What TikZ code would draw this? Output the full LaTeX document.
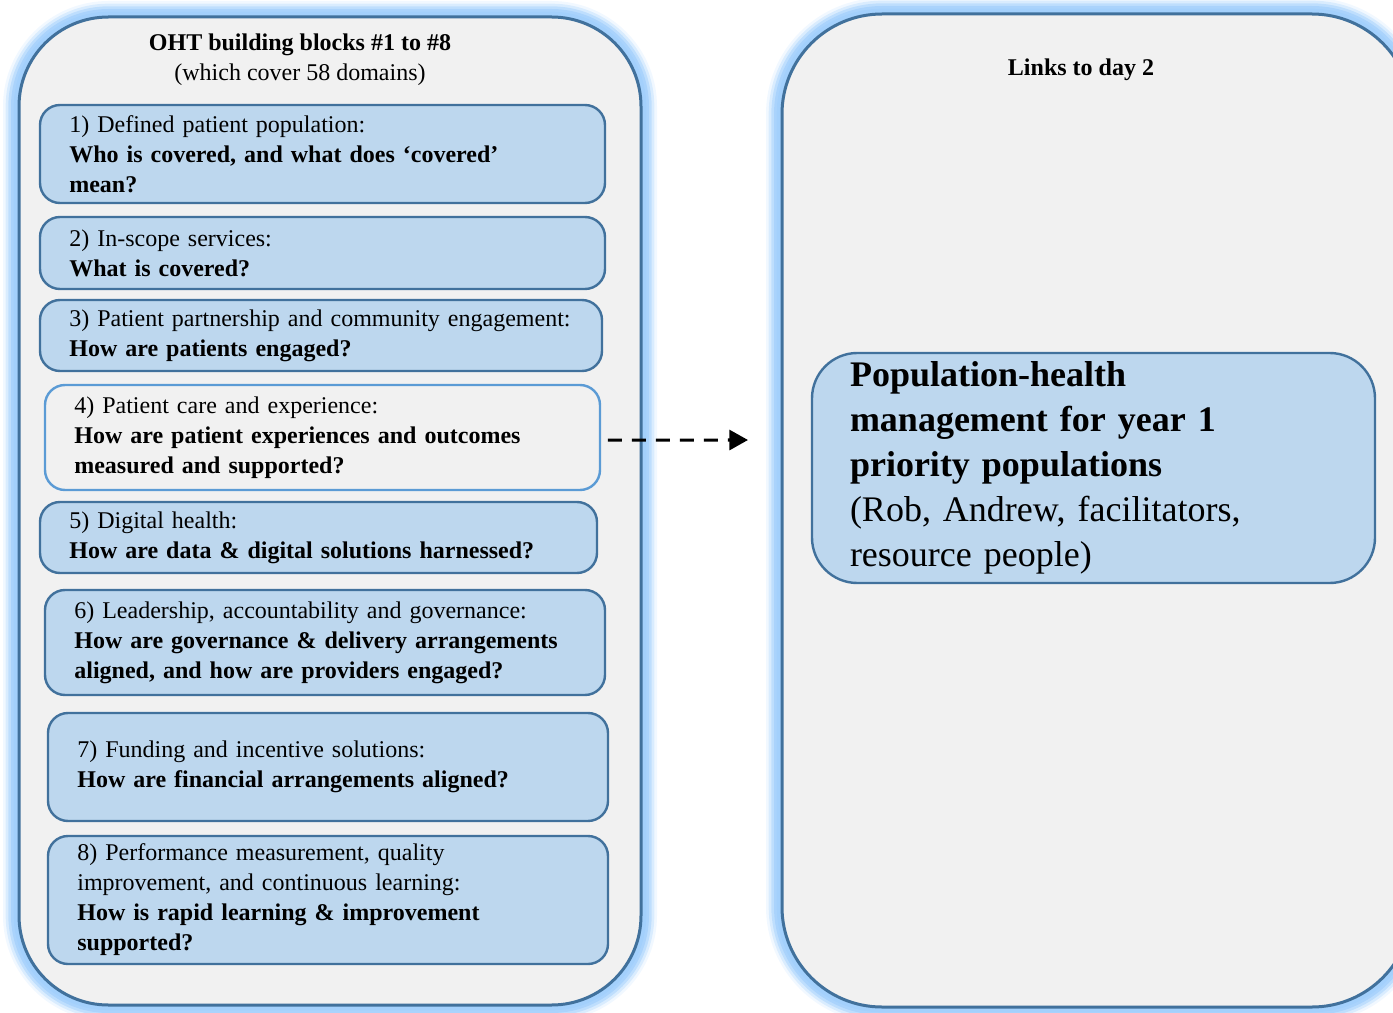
\documentclass[tikz,border=0pt]{standalone}
\usepackage{fontspec}
\setmainfont{Liberation Serif}
\usetikzlibrary{arrows.meta}
\definecolor{panelfill}{HTML}{F1F1F1}
\definecolor{edge}{HTML}{41719C}
\definecolor{blockfill}{HTML}{BDD7EE}
\definecolor{lightedge}{HTML}{5B9BD5}
\definecolor{halo}{HTML}{A3D0FC}

% rounded panel with a soft blue halo around its border
\newcommand\glowpanel[3]{%
  \foreach \w/\o in {24/0.15,20/0.3,16/0.5,12/0.75,8/1}
    \draw[draw=halo, line width=\w pt, draw opacity=\o, rounded corners=#3] #1 rectangle #2;
  \draw[fill=panelfill, draw=edge, line width=2.25pt, rounded corners=#3] #1 rectangle #2;}

\begin{document}
\begin{tikzpicture}[x=0.75pt,y=-0.75pt,
  blk/.style={draw=edge, fill=blockfill, line width=1.8pt, rounded corners=15pt,
    inner xsep=22pt, inner ysep=0pt, align=left,
    font=\fontsize{18}{22.5}\selectfont},
  openblk/.style={blk, draw=lightedge, fill=panelfill},
  heading/.style={font=\fontsize{18}{22.5}\selectfont, inner sep=0pt},
  link/.style={line width=2.3pt, dash pattern=on 10.5pt off 7.5pt,
    -{Triangle[length=14pt,width=15pt]}}]
\useasboundingbox (0,0) rectangle (1393,1013);

% the two panels
\glowpanel{(19,17)}{(641,1005)}{67pt}
\glowpanel{(782,14)}{(1412,1007)}{75pt}

% left panel: building blocks
\node[heading, font=\fontsize{18}{22.5}\selectfont\bfseries] (title) at (300,45) {OHT building blocks \#1 to \#8};
\node[heading] (subtitle) at (300,75) {(which cover 58 domains)};

\node[blk, text width=379.75pt, minimum height=73.5pt] (b1) at (322.5,154)
  {1) Defined patient population:\\\textbf{Who is covered, and what does `covered'}\\\textbf{mean?}};
\node[blk, text width=379.75pt, minimum height=54pt] (b2) at (322.5,253)
  {2) In-scope services:\\\textbf{What is covered?}};
\node[blk, text width=377.5pt, minimum height=53.25pt] (b3) at (321,335.5)
  {3) Patient partnership and community engagement:\\\textbf{How are patients engaged?}};
\node[openblk, text width=372.25pt, minimum height=78.75pt] (b4) at (322.5,437.5)
  {4) Patient care and experience:\\\textbf{How are patient experiences and outcomes}\\\textbf{measured and supported?}};
\node[blk, text width=373.75pt, minimum height=53.25pt] (b5) at (318.5,537.5)
  {5) Digital health:\\\textbf{How are data \& digital solutions harnessed?}};
\node[blk, text width=376pt, minimum height=78.75pt] (b6) at (325,642.5)
  {6) Leadership, accountability and governance:\\\textbf{How are governance \& delivery arrangements}\\\textbf{aligned, and how are providers engaged?}};
\node[blk, text width=376pt, minimum height=81pt] (b7) at (328,767)
  {7) Funding and incentive solutions:\\\textbf{How are financial arrangements aligned?}};
\node[blk, text width=376pt, minimum height=96pt] (b8) at (328,900)
  {8) Performance measurement, quality\\improvement, and continuous learning:\\\textbf{How is rapid learning \& improvement}\\\textbf{supported?}};

% right panel: day 2
\node[heading, font=\fontsize{18}{22.5}\selectfont\bfseries] (links) at (1081,70) {Links to day 2};
\node[blk, font=\fontsize{27}{33.75}\selectfont, inner xsep=28.5pt, text width=365.25pt,
  minimum height=172.5pt, rounded corners=34pt] (pop) at (1093.5,468)
  {\textbf{Population-health}\\\textbf{management for year 1}\\\textbf{priority populations}\\(Rob, Andrew, facilitators,\\resource people)};

% connector
\coordinate (tip) at (748,440);
\draw[link] ([xshift=5pt,yshift=-2pt]b4.east) -- (tip);
\end{tikzpicture}
\end{document}
